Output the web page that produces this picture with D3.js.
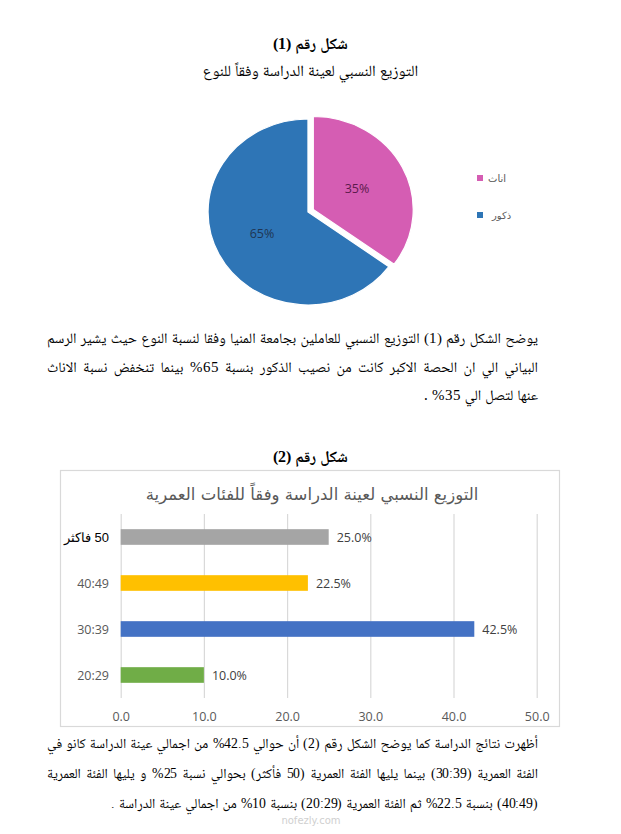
<!DOCTYPE html>
<html>
<head>
<meta charset="utf-8">
<script src="https://cdn.jsdelivr.net/npm/d3@7"></script>
<style>
  @font-face { font-family:"LatinPart"; src: local("Liberation Serif"); unicode-range: U+0020-007F; }
  @font-face { font-family:"LatinPart"; src: local("Liberation Serif Bold"); font-weight:bold; unicode-range: U+0020-007F; }
  html, body { margin:0; padding:0; background:#fff; }
  #page { position:relative; width:621px; height:834px; overflow:hidden; background:#fff; }
  #page svg { position:absolute; left:0; top:0; }
  .txt { position:absolute; direction:rtl; white-space:nowrap; font-family:"LatinPart","Noto Naskh Arabic","Amiri","Noto Serif Arabic","Liberation Serif","DejaVu Sans",serif; color:#000; line-height:1.2; }
</style>
</head>
<body>
<div id="page"></div>
<script>
// ---------- data ----------
const genderLabels = ["اناث", "ذكور"];
const genderValues = [35, 65];
const genderColors = ["#d55db3", "#2e75b6"];
const genderLabelColors = ["#5b1a4c", "#1f3553"];

const ageCategories = ["50 فاكثر", "40:49", "30:39", "20:29"];
const ageValues = [25.0, 22.5, 42.5, 10.0];
const ageColors = ["#a5a5a5", "#ffc000", "#4472c4", "#70ad47"];
const xTicks = [0, 10, 20, 30, 40, 50];

const fig1Caption = "شكل رقم (1)";
const fig1Title = "التوزيع النسبي لعينة الدراسة وفقاً للنوع";
const fig2Caption = "شكل رقم (2)";
const fig2Title = "التوزيع النسبي لعينة الدراسة وفقاً للفئات العمرية";

const para1 = [
  "يوضح الشكل رقم (1) التوزيع النسبي للعاملين بجامعة المنيا وفقا لنسبة النوع حيث يشير الرسم",
  "البياني الي ان الحصة الاكبر كانت من نصيب الذكور بنسبة 65% بينما تنخفض نسبة الاناث",
  "عنها لتصل الي 35% ."
];
const para2 = [
  "أظهرت نتائج الدراسة كما يوضح الشكل رقم (2) أن حوالي 42.5% من اجمالي عينة الدراسة كانو في",
  "الفئة العمرية (30:39) بينما يليها الفئة العمرية (50 فأكثر) بحوالي نسبة 25% و يليها الفئة العمرية",
  "(40:49) بنسبة 22.5% ثم الفئة العمرية (20:29) بنسبة 10% من اجمالي عينة الدراسة ."
];

// ---------- page ----------
const page = d3.select("#page");
const svg = page.append("svg").attr("width", 621).attr("height", 834);

function addText(str, opts) {
  const d = page.append("div").attr("class", "txt").text(str)
    .style("top", opts.top + "px")
    .style("font-size", (opts.size || 15) + "px");
  if (opts.bold) d.style("font-weight", "bold");
  if (opts.center) {
    d.style("left", "0px").style("width", "621px").style("text-align", "center");
  } else {
    const k = opts.k || 1;
    d.style("left", (opts.left + opts.width - opts.width / k) + "px").style("width", (opts.width / k) + "px")
     .style("text-align", opts.justify ? "justify" : "right")
     .style("text-align-last", opts.justify ? "justify" : "right")
     .style("transform-origin", "100% 50%")
     .style("transform", `scaleX(${k})`);
  }
  return d;
}

function measure(str, size) {
  const m = page.append("span").attr("class", "txt")
    .style("left", "0px").style("top", "0px").style("visibility", "hidden")
    .style("font-size", size + "px").text(str);
  const w = m.node().getBoundingClientRect().width;
  m.remove();
  return w;
}
// fit a paragraph into a fixed width: shrink font a bit, compress the rest horizontally
function paragraph(lines, top, gap, left, width, baseSize) {
  const full = lines.slice(0, lines.length - 1);
  const maxW = d3.max(full, l => measure(l, baseSize));
  let ratio = Math.min(1, (width - 4) / maxW);
  const size = baseSize * Math.max(ratio, 0.93);
  const maxW2 = d3.max(full, l => measure(l, size));
  const k = Math.min(1, (width - 4) / maxW2);
  lines.forEach((line, i) => {
    addText(line, {top: top + i * gap + (baseSize - size) / 2, size: size, left: left, width: width, k: k, justify: i < lines.length - 1});
  });
}

// Figure 1 captions
addText(fig1Caption, {top: 35, size: 15.5, bold: true, center: true});
addText(fig1Title, {top: 62, size: 15.5, center: true});

// ---------- pie ----------
const cx = 308, cy = 212, R = 93, sx = 1.075;
const pie = d3.pie().sort(null).value(d => d)(genderValues);
const arc = d3.arc().innerRadius(0).outerRadius(R);
const labelArc = d3.arc().innerRadius(48).outerRadius(48);
const pieG = svg.append("g").attr("transform", `translate(${cx},${cy}) scale(${sx},1)`);
pieG.selectAll("path").data(pie).enter().append("path")
  .attr("d", arc)
  .attr("fill", (d, i) => genderColors[i])
  .attr("stroke", "#fff").attr("stroke-width", 1.2)
  .attr("transform", (d, i) => {
    if (i !== 0) return null;
    const m = (d.startAngle + d.endAngle) / 2;
    return `translate(${Math.sin(m) * 5.5},${-Math.cos(m) * 5.5})`;
  });
svg.selectAll("text.pl").data(pie).enter().append("text").attr("class", "pl")
  .attr("x", d => cx + labelArc.centroid(d)[0] * sx + (d.index === 0 ? 3 : 0))
  .attr("y", d => cy + labelArc.centroid(d)[1] + (d.index === 0 ? -2 : 0))
  .attr("text-anchor", "middle").attr("dominant-baseline", "central")
  .attr("font-family", "Open Sans, Lato, sans-serif").attr("font-size", 12.5)
  .attr("fill", (d, i) => genderLabelColors[i])
  .text(d => d.data + "%");

// legend
const leg = svg.append("g");
genderLabels.forEach((lab, i) => {
  const y = 178 + i * 37;
  leg.append("rect").attr("x", 477).attr("y", y - 3).attr("width", 6).attr("height", 6).attr("fill", genderColors[i]);
  leg.append("text").attr("x", 488 + (i === 1 ? 4 : 0)).attr("y", y).attr("dominant-baseline", "central")
    .attr("font-family", "DejaVu Sans, sans-serif").attr("font-size", 10).attr("fill", "#595959")
    .text(lab);
});

// paragraph 1
paragraph(para1, 330, 28.5, 47, 491, 15);

// Figure 2 caption
addText(fig2Caption, {top: 448, size: 15.5, bold: true, center: true});

// ---------- bar chart ----------
svg.append("rect").attr("x", 60.5).attr("y", 470.5).attr("width", 499).attr("height", 256)
  .attr("fill", "#fff").attr("stroke", "#d9d9d9").attr("stroke-width", 1.2);

svg.append("text").attr("x", 312).attr("y", 494)
  .attr("text-anchor", "middle").attr("dominant-baseline", "central")
  .attr("direction", "rtl")
  .attr("font-family", "DejaVu Sans, sans-serif").attr("font-size", 16.5).attr("fill", "#595959")
  .text(fig2Title);

const x = d3.scaleLinear().domain([0, 50]).range([120.7, 536.7]);
const y = d3.scaleBand().domain(ageCategories).range([514, 698]).paddingInner(0.66).paddingOuter(0.33);

const xAxis = svg.append("g").attr("transform", "translate(0,698)")
  .call(d3.axisBottom(x).tickValues(xTicks).tickFormat(d3.format(".1f")).tickSize(184).tickPadding(0));
xAxis.select(".domain").remove();
xAxis.selectAll(".tick line").attr("stroke", "#d9d9d9").attr("stroke-width", 1.2)
  .attr("y1", -184).attr("y2", 0);
xAxis.selectAll(".tick text").attr("y", 18).attr("dy", "0").attr("dominant-baseline", "central")
  .attr("font-family", "Open Sans, Lato, sans-serif").attr("font-size", 12.5).attr("fill", "#595959");

svg.append("g").selectAll("rect").data(ageValues).enter().append("rect")
  .attr("x", x(0)).attr("y", (d, i) => y(ageCategories[i]))
  .attr("width", d => x(d) - x(0)).attr("height", y.bandwidth())
  .attr("fill", (d, i) => ageColors[i]);

svg.append("g").selectAll("text").data(ageValues).enter().append("text")
  .attr("x", d => x(d) + 8).attr("y", (d, i) => y(ageCategories[i]) + y.bandwidth() / 2)
  .attr("dominant-baseline", "central")
  .attr("font-family", "Open Sans, Lato, sans-serif").attr("font-size", 12.5).attr("fill", "#404040")
  .text(d => d3.format(".1f")(d) + "%");

svg.append("g").selectAll("text").data(ageCategories).enter().append("text")
  .attr("x", 109).attr("y", d => y(d) + y.bandwidth() / 2)
  .attr("direction", "rtl").attr("text-anchor", "start")
  .attr("dominant-baseline", "central")
  .attr("font-family", (d, i) => i === 0 ? "Liberation Sans, Arial, sans-serif" : "Open Sans, Lato, sans-serif")
  .attr("font-size", (d, i) => i === 0 ? 13 : 12.5)
  .attr("fill", (d, i) => i === 0 ? "#000" : "#595959")
  .text(d => d);

// paragraph 2
paragraph(para2, 735, 30, 47, 491, 15);

// watermark
svg.append("text").attr("x", 311).attr("y", 824).attr("text-anchor", "middle")
  .attr("font-family", "DejaVu Sans, sans-serif").attr("font-size", 10).attr("fill", "#d0d0d0")
  .text("nofezly.com");
</script>
</body>
</html>
